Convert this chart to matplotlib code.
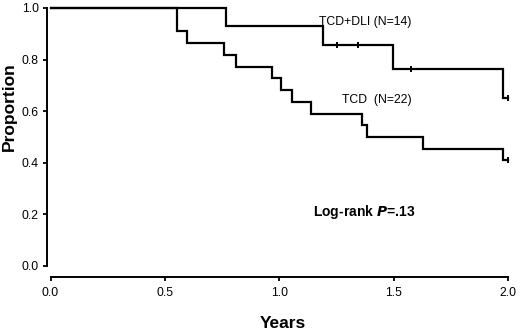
import matplotlib
matplotlib.use("Agg")
import matplotlib.pyplot as plt
import numpy as np

# Kaplan-Meier steps
dli_times = [0.767, 1.193, 1.499, 1.977]
dli_surv = [0.929, 0.857, 0.762, 0.652]
dli_censor = [1.251, 1.343, 1.576, 2.0]

tcd_times = [0.553, 0.598, 0.759, 0.810, 0.970, 1.006, 1.055, 1.138,
             1.363, 1.383, 1.630, 1.977]
tcd_surv = [0.909, 0.864, 0.818, 0.773, 0.727, 0.682, 0.636, 0.591,
            0.545, 0.500, 0.455, 0.409]
tcd_censor = [2.0]

x_ticks = [0.0, 0.5, 1.0, 1.5, 2.0]
y_ticks = [0.0, 0.2, 0.4, 0.6, 0.8, 1.0]

plt.rcParams['font.family'] = ['Liberation Sans', 'DejaVu Sans']

fig = plt.figure(figsize=(5.2, 3.31), dpi=100)
ax = fig.add_axes([50.5 / 520, 65 / 331, 457.5 / 520, 258 / 331])


def km_curve(times, surv, censor):
    xs = [0.0] + list(times) + [2.0]
    ys = [1.0] + list(surv) + [surv[-1]]
    ax.plot(xs, ys, drawstyle='steps-post', color='black', lw=1.6,
            clip_on=False, solid_joinstyle='miter')
    idx = np.searchsorted(times, censor, side='right')
    cy = [1.0 if i == 0 else surv[i - 1] for i in idx]
    ax.plot(censor, cy, linestyle='none', marker='|', color='black',
            markersize=4.5, markeredgewidth=1.4, clip_on=False)


km_curve(dli_times, dli_surv, dli_censor)
km_curve(tcd_times, tcd_surv, tcd_censor)

ax.set_xlim(0, 2.0)
ax.set_ylim(0, 1.0)
ax.set_xticks(x_ticks)
ax.set_xticklabels(['%.1f' % v for v in x_ticks])
ax.set_yticks(y_ticks)
ax.set_yticklabels(['%.1f' % v for v in y_ticks], rotation=90, va='center')

for s in ['top', 'right']:
    ax.spines[s].set_visible(False)
ax.spines['left'].set_position(('outward', 2.5))
ax.spines['bottom'].set_position(('outward', 8))
ax.spines['left'].set_linewidth(1.4)
ax.spines['bottom'].set_linewidth(1.4)
ax.tick_params(axis='both', direction='out', length=3, width=1.3,
               labelsize=8.8)
ax.tick_params(axis='y', pad=3)
ax.tick_params(axis='x', pad=4)

ax.text(1.174, 0.946, 'TCD+DLI (N=14)', fontsize=8.8, va='center', ha='left')
ax.text(1.273, 0.643, 'TCD  (N=22)', fontsize=8.8, va='center', ha='left')
ax.text(1.148, 0.209, 'Log-rank $\\mathbfit{P}$=.13', fontsize=10,
        fontweight='bold', va='center', ha='left')

fig.text(283 / 520, 1 - 323 / 331, 'Years', fontsize=12.5, fontweight='bold',
         ha='center', va='center')
fig.text(9 / 520, 1 - 107 / 331, 'Proportion', fontsize=12.5,
         fontweight='bold', rotation=90, ha='center', va='center')

fig.savefig('out.png', dpi=100)
